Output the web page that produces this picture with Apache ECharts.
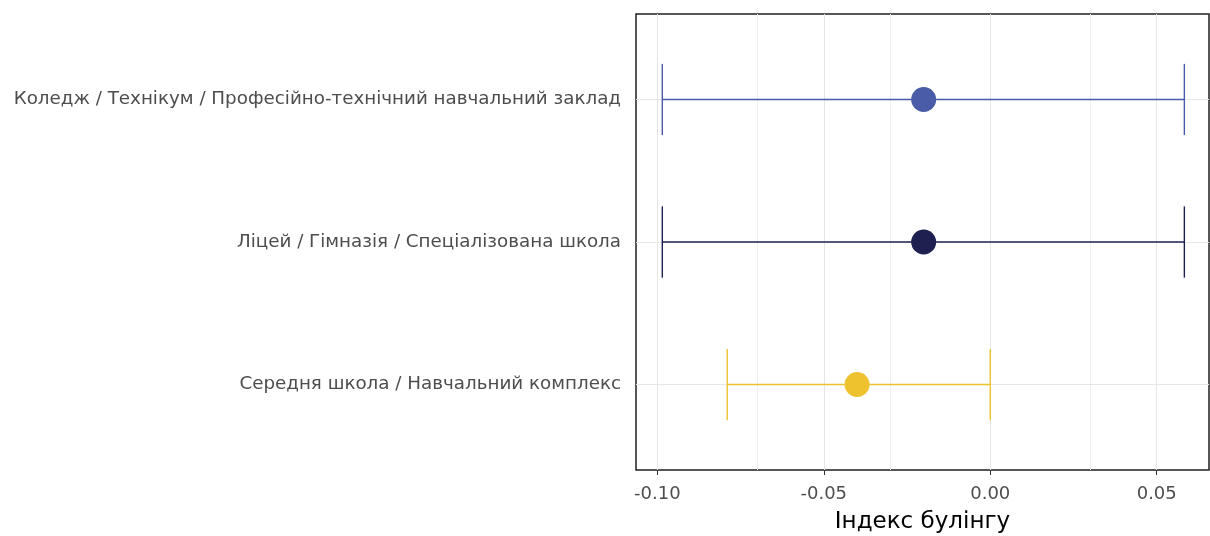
<!DOCTYPE html>
<html><head><meta charset="utf-8">
<script src="https://cdn.jsdelivr.net/npm/echarts@6/dist/echarts.min.js"></script>
<style>html,body{margin:0;padding:0;background:#fff}#c{width:1210px;height:536px}</style>
</head><body><div id="c"></div>
<script>
// Categories bottom → top
const categories = [
  'Середня школа / Навчальний комплекс',
  'Ліцей / Гімназія / Спеціалізована школа',
  'Коледж / Технікум / Професійно-технічний навчальний заклад'
];
const yPositions = [1, 2, 3];
const means = [-0.040, -0.020, -0.020];
const lowerCI = [-0.079, -0.0985, -0.0985];
const upperCI = [0.000, 0.0583, 0.0583];
const xTicks = [-0.10, -0.05, 0.00, 0.05];
const xMinorGrid = [-0.075, -0.025, 0.025];
const xAxisTitle = 'Індекс булінгу';

const pointColors = ['#EDC22E', '#1E2050', '#4A5BA8'];
const FONT = '"DejaVu Sans", sans-serif';

const chart = echarts.init(document.getElementById('c'), null, {renderer: 'canvas'});

const gridLines = []
  .concat(xMinorGrid.map(v => ({xAxis: v, lineStyle: {color: '#F0F0F0', width: 1, type: 'solid'}})))
  .concat(xTicks.map(v => ({xAxis: v, lineStyle: {color: '#E6E6E6', width: 1, type: 'solid'}})))
  .concat(yPositions.map(v => ({yAxis: v, lineStyle: {color: '#E6E6E6', width: 1, type: 'solid'}})));

const option = {
  animation: false,
  backgroundColor: '#fff',
  grid: {left: 636, right: 1, top: 14, bottom: 66, outerBoundsMode: 'none', containLabel: false,
         show: true, borderColor: '#1f1f1f', borderWidth: 1.5, backgroundColor: 'transparent'},
  xAxis: {
    type: 'value', min: -0.1064, max: 0.0657,
    axisLine: {show: false},
    splitLine: {show: false},
    axisTick: {show: true, length: 5, customValues: xTicks, lineStyle: {color: '#333', width: 1}},
    axisLabel: {customValues: xTicks, formatter: v => v.toFixed(2), color: '#4D4D4D', fontSize: 18, fontFamily: FONT, margin: 15},
    name: xAxisTitle, nameLocation: 'middle', nameGap: 41,
    nameTextStyle: {color: '#000', fontSize: 23, fontFamily: FONT}
  },
  yAxis: {
    type: 'value', min: 0.4, max: 3.6,
    axisLine: {show: false},
    splitLine: {show: false},
    axisTick: {show: true, length: 5, customValues: yPositions, lineStyle: {color: '#333', width: 1}},
    axisLabel: {customValues: yPositions, formatter: v => categories[Math.round(v) - 1], color: '#4D4D4D', fontSize: 18.3, fontFamily: FONT, margin: 15}
  },
  series: [
    {
      type: 'scatter', data: [], z: 1, silent: true,
      markLine: {z: 1, silent: true, symbol: 'none', label: {show: false}, animation: false, data: gridLines}
    },
    {
      type: 'custom', z: 5,
      data: means.map((m, i) => [lowerCI[i], upperCI[i], yPositions[i]]),
      encode: {x: [0, 1], y: 2},
      renderItem: function (params, api) {
        const y = api.value(2);
        const lo = api.coord([api.value(0), y]);
        const hi = api.coord([api.value(1), y]);
        const cap = api.size([0, 0.25])[1];
        const style = {stroke: pointColors[params.dataIndex], lineWidth: 1.4};
        return {type: 'group', children: [
          {type: 'line', shape: {x1: lo[0], y1: lo[1], x2: hi[0], y2: hi[1]}, style: style},
          {type: 'line', shape: {x1: lo[0], y1: lo[1] - cap, x2: lo[0], y2: lo[1] + cap}, style: style},
          {type: 'line', shape: {x1: hi[0], y1: hi[1] - cap, x2: hi[0], y2: hi[1] + cap}, style: style}
        ]};
      }
    },
    {
      type: 'scatter', z: 6, symbolSize: 25,
      data: means.map((m, i) => ({value: [m, yPositions[i]], itemStyle: {color: pointColors[i], opacity: 1}}))
    }
  ]
};
chart.setOption(option);
</script>
</body></html>
